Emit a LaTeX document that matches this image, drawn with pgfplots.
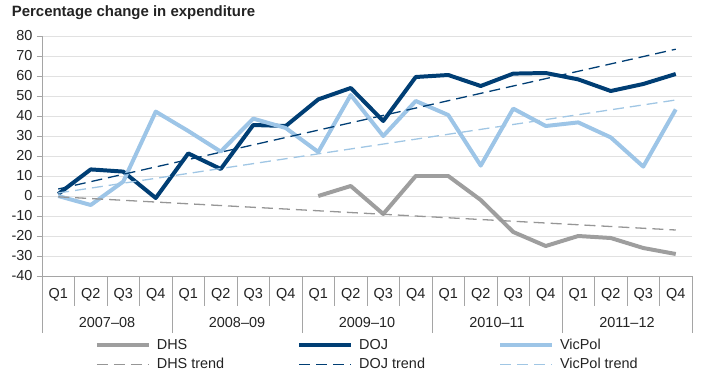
\documentclass[border=0pt]{standalone}
\usepackage{pgfplots}
\pgfplotsset{compat=1.18}
\usepackage{fontspec}
\setmainfont{Liberation Sans}
\definecolor{dojc}{RGB}{0,62,116}
\definecolor{vicc}{RGB}{157,197,231}
\definecolor{dhsc}{RGB}{158,158,158}
\definecolor{dhstc}{RGB}{150,150,150}
\definecolor{vicTc}{RGB}{160,198,228}
\definecolor{txt}{RGB}{35,35,35}
\definecolor{axc}{RGB}{165,165,165}
\definecolor{gridc}{RGB}{225,225,225}
\newcommand{\lf}{\fontsize{14.5}{16}\selectfont}
\begin{document}
\begin{tikzpicture}
\path[use as bounding box] (-42bp,-109bp) rectangle (677bp,276bp);
\begin{axis}[
  at={(0bp,0bp)}, anchor=south west,
  scale only axis, width=650bp, height=240bp,
  xmin=-0.5, xmax=19.5, ymin=-40, ymax=80,
  ytick={-40,-30,...,80},
  xtick=\empty,
  ymajorgrids, grid style={gridc, line width=0.6pt},
  axis line style={axc, line width=0.7pt},
  axis x line*=bottom, axis y line*=left,
  y axis line style={-}, x axis line style={-},
  ytick style={axc, line width=0.7pt},
  tick align=outside, major tick length=5bp,
  tick label style={font=\lf, text=txt},
  /pgf/number format/assume math mode=true,
  yticklabel style={xshift=-1bp},
  clip=false,
  legend columns=3,
  legend style={draw=none, fill=none, at={(0.081,-0.255)}, anchor=north west,
    font=\lf, text=txt, inner sep=0pt,
    row sep=3bp,
    /tikz/every odd column/.append style={column sep=4bp},
    /tikz/every even column/.append style={column sep=71bp}},
  legend cell align=left,
  legend image code/.code={\draw[#1] (0bp,0bp) -- (52bp,0bp);},
]
\addplot[dhsc, line width=4pt, line join=round] coordinates {(8,0)(9,5)(10,-9)(11,10)(12,10)(13,-2)(14,-18)(15,-25)(16,-20)(17,-21)(18,-26)(19,-29)};
\addlegendentry{DHS}
\addplot[dojc, line width=4pt, line join=round] coordinates {(0,1)(1,13.3)(2,12.2)(3,-1)(4,21.3)(5,13.5)(6,35.5)(7,35)(8,48.3)(9,54)(10,37.5)(11,59.5)(12,60.5)(13,55)(14,61.2)(15,61.5)(16,58.3)(17,52.5)(18,56)(19,61)};
\addlegendentry{DOJ}
\addplot[vicc, line width=4pt, line join=round] coordinates {(0,0)(1,-4.5)(2,7.2)(3,42.2)(4,32.5)(5,22.2)(6,38.7)(7,34)(8,22)(9,50.5)(10,30)(11,47.5)(12,40.5)(13,15.2)(14,43.7)(15,35)(16,36.8)(17,29.3)(18,14.7)(19,43.3)};
\addlegendentry{VicPol}
\addplot[dhstc, line width=1.3pt, dash pattern=on 11bp off 6bp] coordinates {(0,-0.4)(19,-17)};
\addlegendentry{DHS trend}
\addplot[dojc, line width=1.3pt, dash pattern=on 11bp off 6bp] coordinates {(0,3.5)(19,73.4)};
\addlegendentry{DOJ trend}
\addplot[vicTc, line width=1.3pt, dash pattern=on 11bp off 6bp] coordinates {(0,1.5)(19,48)};
\addlegendentry{VicPol trend}
% category table
\pgfplotsinvokeforeach{0,1,2,3,4}{
  \node[font=\lf, text=txt] at ([yshift=-19bp]axis cs:#1*4,-40) {Q1};
  \node[font=\lf, text=txt] at ([yshift=-19bp]axis cs:#1*4+1,-40) {Q2};
  \node[font=\lf, text=txt] at ([yshift=-19bp]axis cs:#1*4+2,-40) {Q3};
  \node[font=\lf, text=txt] at ([yshift=-19bp]axis cs:#1*4+3,-40) {Q4};
  \draw[axc, line width=0.7pt] (axis cs:#1*4-0.5,-40) -- ([yshift=-57bp]axis cs:#1*4-0.5,-40);
  \draw[axc, line width=0.7pt] (axis cs:#1*4+0.5,-40) -- ([yshift=-30bp]axis cs:#1*4+0.5,-40);
  \draw[axc, line width=0.7pt] (axis cs:#1*4+1.5,-40) -- ([yshift=-30bp]axis cs:#1*4+1.5,-40);
  \draw[axc, line width=0.7pt] (axis cs:#1*4+2.5,-40) -- ([yshift=-30bp]axis cs:#1*4+2.5,-40);
}
\draw[axc, line width=0.7pt] (axis cs:19.5,-40) -- ([yshift=-57bp]axis cs:19.5,-40);
\node[font=\lf, text=txt] at ([yshift=-47bp]axis cs:1.5,-40) {2007–08};
\node[font=\lf, text=txt] at ([yshift=-47bp]axis cs:5.5,-40) {2008–09};
\node[font=\lf, text=txt] at ([yshift=-47bp]axis cs:9.5,-40) {2009–10};
\node[font=\lf, text=txt] at ([yshift=-47bp]axis cs:13.5,-40) {2010–11};
\node[font=\lf, text=txt] at ([yshift=-47bp]axis cs:17.5,-40) {2011–12};
\end{axis}
\node[anchor=base west, font=\bfseries\fontsize{15}{17}\selectfont, text=txt, inner sep=0pt] at (-30.3bp,259.3bp) {Percentage change in expenditure};
\end{tikzpicture}
\end{document}
